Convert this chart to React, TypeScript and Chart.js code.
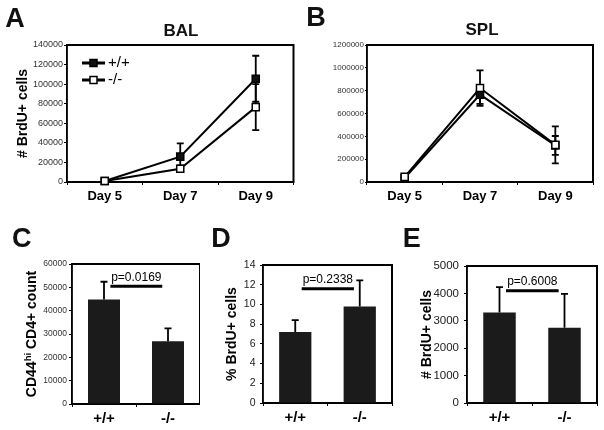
import React, { useEffect, useRef } from 'react';
import { Chart, registerables } from 'chart.js';

Chart.register(...registerables);

const FONT = "'Liberation Sans', Arial, Helvetica, sans-serif";

// ---------------- data ----------------
const days = ['Day 5', 'Day 7', 'Day 9'];
const genotypes = ['+/+', '-/-'];

// A: BAL
const balWT = [1000, 25900, 105500];
const balWTErr = [0, 13600, 23500];
const balKO = [1000, 13500, 76500];
const balKOErr = [0, 3500, 23500];
const balYMax = 140000;
const balYStep = 20000;

// B: SPL
const splWT = [35000, 765000, 320000];
const splWTErr = [0, 80000, 83000];
const splKO = [45000, 823000, 325000];
const splKOErr = [0, 155000, 162000];
const splYMax = 1200000;
const splYStep = 200000;

// C: CD44hi CD4+ count
const cd44Count = [44800, 26900];
const cd44Err = [7600, 5500];
const cd44PValue = 'p=0.0169';
const cd44PLineY = 50500;
const cd44YMax = 60000;
const cd44YStep = 10000;

// D: % BrdU+ cells
const pctBrdU = [7.2, 9.8];
const pctBrdUErr = [1.2, 2.65];
const pctPValue = 'p=0.2338';
const pctPLineY = 11.6;
const pctYMax = 14;
const pctYStep = 2;

// E: # BrdU+ cells
const numBrdU = [3300, 2750];
const numBrdUErr = [930, 1230];
const numPValue = 'p=0.6008';
const numPLineY = 4100;
const numYMax = 5000;
const numYStep = 1000;

const pLineSpan = [0.1, 0.91];

// ---------------- plugins ----------------
const makeErrorBars = (errs: number[][], both: boolean, behind: boolean, cap: number) => {
  const draw = (chart: any) => {
    const { ctx } = chart;
    const ys = chart.scales.y;
    ctx.save();
    ctx.strokeStyle = '#000';
    ctx.lineWidth = 1.8;
    chart.data.datasets.forEach((ds: any, di: number) => {
      const meta = chart.getDatasetMeta(di);
      meta.data.forEach((el: any, i: number) => {
        const v = ds.data[i] as number;
        const e = errs[di][i];
        if (!e) return;
        const x = el.x;
        const yHi = ys.getPixelForValue(v + e);
        const yLo = ys.getPixelForValue(both ? v - e : v);
        ctx.beginPath();
        ctx.moveTo(x, yHi);
        ctx.lineTo(x, yLo);
        ctx.moveTo(x - cap / 2, yHi);
        ctx.lineTo(x + cap / 2, yHi);
        if (both) {
          ctx.moveTo(x - cap / 2, yLo);
          ctx.lineTo(x + cap / 2, yLo);
        }
        ctx.stroke();
      });
    });
    ctx.restore();
  };
  return {
    id: 'errorBars',
    beforeDatasetsDraw(c: any) {
      if (behind) draw(c);
    },
    afterDatasetsDraw(c: any) {
      if (!behind) draw(c);
    },
  };
};

const framePlugin = {
  id: 'frame',
  beforeDatasetsDraw(chart: any) {
    const { ctx, chartArea } = chart;
    const { left, top, right, bottom } = chartArea;
    ctx.save();
    ctx.strokeStyle = '#000';
    ctx.lineWidth = 2;
    ctx.beginPath();
    ctx.moveTo(left, top);
    ctx.lineTo(right, top);
    ctx.lineTo(right, bottom);
    ctx.lineTo(left, bottom);
    ctx.stroke();
    ctx.lineWidth = 1.5;
    ctx.beginPath();
    ctx.moveTo(left, top - 1);
    ctx.lineTo(left, bottom);
    ctx.stroke();
    ctx.restore();
  },
};

const makePLine = (yVal: number, text: string) => ({
  id: 'pLine',
  afterDatasetsDraw(chart: any) {
    const { ctx } = chart;
    const xs = chart.scales.x;
    const ys = chart.scales.y;
    const a = xs.getPixelForValue(0);
    const b = xs.getPixelForValue(1);
    const x0 = a + pLineSpan[0] * (b - a);
    const x1 = a + pLineSpan[1] * (b - a);
    const y = ys.getPixelForValue(yVal);
    ctx.save();
    ctx.strokeStyle = '#000';
    ctx.lineWidth = 3;
    ctx.beginPath();
    ctx.moveTo(x0, y);
    ctx.lineTo(x1, y);
    ctx.stroke();
    ctx.font = `12px ${FONT}`;
    ctx.textAlign = 'center';
    ctx.textBaseline = 'middle';
    ctx.fillStyle = '#000';
    ctx.fillText(text, (x0 + x1) / 2, y - 8.5);
    ctx.restore();
  },
});

const lineLegend = {
  id: 'lineLegend',
  afterDraw(chart: any) {
    const { ctx, chartArea } = chart;
    chart.data.datasets.forEach((ds: any, i: number) => {
      const y = chartArea.top + 18 + i * 17;
      const x0 = chartArea.left + 15;
      const x1 = chartArea.left + 38;
      const xc = (x0 + x1) / 2;
      ctx.save();
      ctx.strokeStyle = '#000';
      ctx.lineWidth = 3;
      ctx.beginPath();
      ctx.moveTo(x0, y);
      ctx.lineTo(x1, y);
      ctx.stroke();
      ctx.fillStyle = ds.pointBackgroundColor;
      ctx.lineWidth = 1.5;
      ctx.fillRect(xc - 3.5, y - 3.5, 7, 7);
      ctx.strokeRect(xc - 3.5, y - 3.5, 7, 7);
      ctx.font = `15px ${FONT}`;
      ctx.fillStyle = '#000';
      ctx.textAlign = 'left';
      ctx.textBaseline = 'middle';
      ctx.fillText(ds.label, x1 + 3, y);
      ctx.restore();
    });
  },
};

const cd44TitleParts: [string, boolean][] = [
  ['CD44', false],
  ['hi', true],
  [' CD4+ count', false],
];
const cd44Title = {
  id: 'cd44Title',
  afterDraw(chart: any) {
    const { ctx, chartArea } = chart;
    const cx = 31;
    const cy = (chartArea.top + chartArea.bottom) / 2;
    const big = `bold 14px ${FONT}`;
    const small = `bold 9.5px ${FONT}`;
    ctx.save();
    let total = 0;
    const widths = cd44TitleParts.map(([t, sup]) => {
      ctx.font = sup ? small : big;
      const w = ctx.measureText(t).width;
      total += w;
      return w;
    });
    ctx.translate(cx, cy);
    ctx.rotate(-Math.PI / 2);
    ctx.fillStyle = '#000';
    ctx.textAlign = 'left';
    ctx.textBaseline = 'alphabetic';
    let x = -total / 2;
    cd44TitleParts.forEach(([t, sup], i) => {
      ctx.font = sup ? small : big;
      ctx.fillText(t, x, sup ? -0.5 : 5);
      x += widths[i];
    });
    ctx.restore();
  },
};

// ---------------- scale helpers ----------------
const yScale = (
  max: number,
  step: number,
  fontSize: number,
  width: number,
  tickLen: number,
  pad: number,
  color: string,
  title?: { text: string; pad: number }
) => ({
  min: 0,
  max,
  ticks: {
    stepSize: step,
    autoSkip: false,
    padding: pad,
    color,
    font: { family: FONT, size: fontSize },
    callback: (v: any) => String(v),
  },
  grid: { drawOnChartArea: false, drawTicks: true, tickLength: tickLen, color: '#000', lineWidth: 1 },
  border: { color: '#000', width: 1.5 },
  title: title
    ? {
        display: true,
        text: title.text,
        color: '#000',
        font: { family: FONT, size: 14, weight: 'bold' },
        padding: { top: title.pad, bottom: 0 },
      }
    : { display: false },
  afterFit: (s: any) => {
    s.width = width;
  },
});

const xScale = (fontSize: number, height: number, pad: number) => ({
  type: 'category',
  offset: true,
  ticks: {
    autoSkip: false,
    maxRotation: 0,
    padding: pad,
    color: '#000',
    font: { family: FONT, size: fontSize, weight: 'bold' },
  },
  grid: { offset: true, drawOnChartArea: false, tickLength: 3, color: '#000' },
  border: { color: '#000', width: 2 },
  afterFit: (s: any) => {
    s.height = height;
  },
});

const baseOptions = (padding: any) => ({
  responsive: false,
  animation: false,
  events: [],
  layout: { padding },
  plugins: { legend: { display: false }, tooltip: { enabled: false }, title: { display: false } },
});

const lineDataset = (label: string, data: number[], fill: string, order: number) => ({
  label,
  data,
  borderColor: '#000',
  backgroundColor: fill,
  pointBackgroundColor: fill,
  pointBorderColor: '#000',
  pointStyle: 'rect',
  pointRadius: 5,
  pointBorderWidth: 1.5,
  borderWidth: 2,
  tension: 0,
  clip: false,
  order,
});

const barDataset = (data: number[]) => ({
  data,
  backgroundColor: '#1b1b1b',
  borderWidth: 0,
  barPercentage: 0.5,
  categoryPercentage: 1,
});

// ---------------- configs ----------------
const configA = () => ({
  type: 'line',
  data: {
    labels: days,
    datasets: [lineDataset(genotypes[0], balWT, '#111', 1), lineDataset(genotypes[1], balKO, '#fff', 0)],
  },
  options: {
    ...baseOptions({ left: 0, top: 45, right: 3, bottom: 0 }),
    scales: {
      x: xScale(13, 33, 4),
      y: yScale(balYMax, balYStep, 9, 67, 3, 1, '#333', { text: '# BrdU+ cells', pad: 15 }),
    },
  },
  plugins: [framePlugin, makeErrorBars([balWTErr, balKOErr], true, true, 7), lineLegend],
});

const configB = () => ({
  type: 'line',
  data: {
    labels: days,
    datasets: [lineDataset(genotypes[0], splWT, '#111', 1), lineDataset(genotypes[1], splKO, '#fff', 0)],
  },
  options: {
    ...baseOptions({ left: 0, top: 45, right: 11, bottom: 0 }),
    scales: {
      x: xScale(13, 33, 4),
      y: yScale(splYMax, splYStep, 8, 67, 2, 1, '#333'),
    },
  },
  plugins: [framePlugin, makeErrorBars([splWTErr, splKOErr], true, true, 7)],
});

const configC = () => ({
  type: 'bar',
  data: { labels: genotypes, datasets: [barDataset(cd44Count)] },
  options: {
    ...baseOptions({ left: 0, top: 49, right: 0, bottom: 0 }),
    scales: {
      x: xScale(15, 26, 3),
      y: yScale(cd44YMax, cd44YStep, 8.5, 72, 3, 2, '#333'),
    },
  },
  plugins: [framePlugin, makeErrorBars([cd44Err], false, false, 7), makePLine(cd44PLineY, cd44PValue), cd44Title],
});

const configD = () => ({
  type: 'bar',
  data: { labels: genotypes, datasets: [barDataset(pctBrdU)] },
  options: {
    ...baseOptions({ left: 0, top: 50, right: 8, bottom: 0 }),
    scales: {
      x: xScale(15, 27, 3),
      y: yScale(pctYMax, pctYStep, 10.5, 63, 3, 4.5, '#222', { text: '% BrdU+ cells', pad: 23.3 }),
    },
  },
  plugins: [framePlugin, makeErrorBars([pctBrdUErr], false, false, 7), makePLine(pctPLineY, pctPValue)],
});

const configE = () => ({
  type: 'bar',
  data: { labels: genotypes, datasets: [barDataset(numBrdU)] },
  options: {
    ...baseOptions({ left: 0, top: 51, right: 7, bottom: 0 }),
    scales: {
      x: xScale(15, 27, 3),
      y: yScale(numYMax, numYStep, 11.5, 67, 3, 5, '#222', { text: '# BrdU+ cells', pad: 18.3 }),
    },
  },
  plugins: [framePlugin, makeErrorBars([numBrdUErr], false, false, 7), makePLine(numPLineY, numPValue)],
});

// ---------------- components ----------------
function ChartPanel(props: { left: number; top: number; width: number; height: number; make: () => any }) {
  const ref = useRef<HTMLCanvasElement>(null);
  useEffect(() => {
    const chart = new Chart(ref.current as HTMLCanvasElement, props.make());
    return () => chart.destroy();
  }, []);
  return (
    <canvas
      ref={ref}
      width={props.width}
      height={props.height}
      style={{ position: 'absolute', left: props.left, top: props.top, width: props.width, height: props.height }}
    />
  );
}

const labelStyle = (x: number, y: number, size: number): React.CSSProperties => ({
  position: 'absolute',
  left: x,
  top: y,
  transform: 'translate(-50%, -50%)',
  fontFamily: FONT,
  fontWeight: 'bold',
  fontSize: size,
  lineHeight: 1,
  color: '#111',
  whiteSpace: 'nowrap',
});

export default function App() {
  return (
    <div style={{ position: 'absolute', left: 0, top: 0, width: 604, height: 430, background: '#fff', overflow: 'hidden' }}>
      <ChartPanel left={0} top={0} width={300} height={215} make={configA} />
      <ChartPanel left={300} top={0} width={304} height={215} make={configB} />
      <ChartPanel left={0} top={215} width={200} height={215} make={configC} />
      <ChartPanel left={200} top={215} width={200} height={215} make={configD} />
      <ChartPanel left={400} top={215} width={204} height={215} make={configE} />
      <div style={labelStyle(15, 17.5, 27)}>A</div>
      <div style={labelStyle(316, 17, 27)}>B</div>
      <div style={labelStyle(21.7, 237.7, 27)}>C</div>
      <div style={labelStyle(221, 237.7, 27)}>D</div>
      <div style={labelStyle(411.7, 237.7, 27)}>E</div>
      <div style={labelStyle(181, 30, 17)}>BAL</div>
      <div style={labelStyle(482, 28.5, 17)}>SPL</div>
    </div>
  );
}
